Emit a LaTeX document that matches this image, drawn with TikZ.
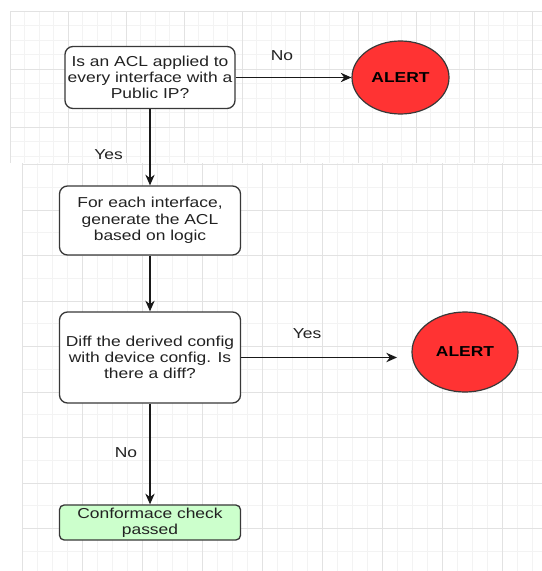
\documentclass[tikz,border=0pt]{standalone}
\usepackage{fontspec}
\setmainfont[FakeStretch=1.21]{Liberation Sans}
\usetikzlibrary{shapes, arrows.meta, positioning}
\definecolor{gridlight}{HTML}{F3F3F3}
\definecolor{griddark}{HTML}{E2E2E2}
\definecolor{alertred}{HTML}{FF3333}
\definecolor{passgreen}{HTML}{CCFFCC}
\definecolor{edgegrey}{HTML}{383838}
\definecolor{inkgrey}{HTML}{222222}
\tikzstyle{boxfont} = [font=\fontsize{10.8}{12.2}\selectfont, text=inkgrey]
\tikzstyle{process} = [rectangle, rounded corners=6pt, draw=edgegrey, line width=1pt, fill=white,
                       align=center, inner sep=2pt, boxfont]
\tikzstyle{passed} = [process, rounded corners=3.5pt, fill=passgreen]
\tikzstyle{alert} = [ellipse, draw=edgegrey, line width=0.9pt, fill=alertred, inner sep=0pt,
                     font=\fontsize{10.8}{12}\selectfont\bfseries, text=black]
\tikzstyle{flow} = [-{Stealth[length=8pt, width=7pt]}, line width=1pt, draw=black!90]
\tikzstyle{answer} = [inner sep=0pt, boxfont]
\tikzstyle{gridminor} = [draw=gridlight, line width=0.6pt]
\tikzstyle{gridmajor} = [draw=griddark, line width=0.6pt]

\begin{document}
\begin{tikzpicture}[x=0.75pt, y=-0.75pt]
				\fill[white] (0, 0) rectangle (542, 571);
				\useasboundingbox (0, 0) rectangle (542, 571);

				% background grid, upper sheet
				\foreach \gx in {10, 24.5, ..., 542} \draw[gridminor] (\gx, 11) -- (\gx, 163);
				\foreach \gy in {11, 25.5, ..., 163} \draw[gridminor] (10, \gy) -- (542, \gy);
				\foreach \gx in {10, 68, ..., 542} \draw[gridmajor] (\gx, 11) -- (\gx, 163);
				\foreach \gy in {11, 69, ..., 163} \draw[gridmajor] (10, \gy) -- (542, \gy);

				% background grid, lower sheet
				\foreach \gx in {22, 37, ..., 542} \draw[gridminor] (\gx, 163) -- (\gx, 571);
				\foreach \gy in {164.5, 187.25, ..., 571} \draw[gridminor] (22, \gy) -- (542, \gy);
				\foreach \gx in {22, 82, ..., 542} \draw[gridmajor] (\gx, 163) -- (\gx, 571);
				\foreach \gy in {164.5, 210, ..., 571} \draw[gridmajor] (22, \gy) -- (542, \gy);

				% first check
				\node (AclCheck) [process, minimum width=124.5pt, minimum height=46.5pt] at (150, 77.5)
					{Is an ACL applied to\\every interface with a\\Public IP?};
				\node (AlertAcl) [alert, minimum width=72.75pt, minimum height=54.75pt] at (400.5, 77.5) {ALERT};
				\draw[flow] (AclCheck) -- (AlertAcl);
				\node (NoAcl) [answer] at (282, 56) {No};

				% generate
				\node (Generate) [process, minimum width=135.75pt, minimum height=51.75pt] at (150, 220.5)
					{For each interface,\\generate the ACL\\based on logic};
				\draw[flow] (AclCheck) -- (Generate);
				\node (YesAcl) [answer] at (108.5, 155) {Yes};

				% diff
				\node (Diff) [process, minimum width=135.75pt, minimum height=68.25pt] at (150, 357.5)
					{Diff the derived config\\with device config. Is\\there a diff?};
				\draw[flow] (Generate) -- (Diff);

				\node (AlertDiff) [alert, minimum width=79.5pt, minimum height=60pt] at (465, 352) {ALERT};
				\coordinate (DiffOut) at (397, 357.5);
				\draw[flow] (Diff) -- (DiffOut);
				\node (YesDiff) [answer] at (307, 334) {Yes};

				% passed
				\node (Passed) [passed, minimum width=135.75pt, minimum height=24.75pt] at (150, 522.5)
					{Conformace check\\passed};
				\draw[flow] (Diff) -- (Passed);
				\node (NoDiff) [answer] at (126, 453) {No};
			\end{tikzpicture}
\end{document}
